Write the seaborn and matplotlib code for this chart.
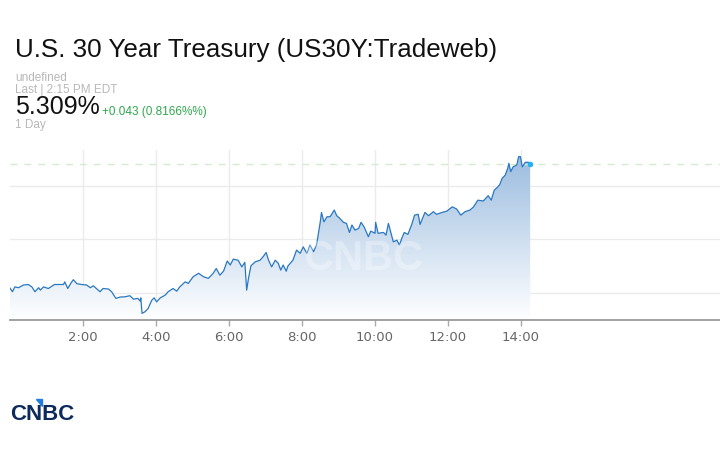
import numpy as np
import pandas as pd
import seaborn as sns
import matplotlib.pyplot as plt
from matplotlib.colors import LinearSegmentedColormap
from matplotlib.patches import Polygon

# время (минуты от полуночи) и доходность
minutes = [0, 4, 8, 14, 22, 30, 36, 41, 47, 50,
           55, 63, 73, 88, 90, 95, 99, 104, 110, 118,
           126, 132, 137, 143, 148, 153, 162, 167, 174, 181,
           189, 197, 203, 210, 214, 215, 217, 222, 227, 233,
           237, 241, 247, 255, 260, 268, 274, 279, 285, 288,
           293, 301, 310, 318, 326, 334, 339, 345, 351, 357,
           362, 367, 375, 381, 386, 389, 392, 396, 403, 411,
           416, 421, 425, 430, 436, 441, 445, 449, 454, 457,
           465, 471, 477, 482, 488, 493, 499, 504, 510, 512,
           516, 521, 526, 533, 537, 542, 548, 553, 558, 562,
           567, 573, 577, 582, 589, 593, 600, 601, 605, 614,
           618, 622, 626, 630, 636, 640, 644, 648, 654, 660,
           665, 671, 674, 682, 688, 696, 701, 710, 718, 727,
           734, 741, 748, 756, 762, 769, 778, 786, 791, 796,
           802, 805, 809, 814, 818, 820, 823, 827, 833, 836,
           839, 842, 847, 852, 855]
yields = [5.2618, 5.2604, 5.2622, 5.2619, 5.2629, 5.2631, 5.2622, 5.2604, 5.2619, 5.2610,
          5.2622, 5.2616, 5.2631, 5.2631, 5.2641, 5.2616, 5.2632, 5.2649, 5.2634, 5.2631,
          5.2629, 5.2619, 5.2626, 5.2614, 5.2604, 5.2616, 5.2614, 5.2604, 5.2579, 5.2584,
          5.2585, 5.2589, 5.2576, 5.2579, 5.2569, 5.2581, 5.2523, 5.2529, 5.2541, 5.2572,
          5.2581, 5.2566, 5.2581, 5.2591, 5.2604, 5.2616, 5.2606, 5.2622, 5.2635, 5.2641,
          5.2635, 5.2660, 5.2673, 5.2660, 5.2654, 5.2673, 5.2691, 5.2666, 5.2681, 5.2719,
          5.2704, 5.2726, 5.2722, 5.2697, 5.2714, 5.2610, 5.2654, 5.2701, 5.2716, 5.2722,
          5.2735, 5.2751, 5.2722, 5.2697, 5.2722, 5.2710, 5.2685, 5.2704, 5.2681, 5.2701,
          5.2722, 5.2760, 5.2748, 5.2772, 5.2748, 5.2779, 5.2754, 5.2781, 5.2866, 5.2901,
          5.2866, 5.2885, 5.2885, 5.2910, 5.2889, 5.2879, 5.2864, 5.2860, 5.2826, 5.2854,
          5.2835, 5.2841, 5.2864, 5.2847, 5.2810, 5.2831, 5.2823, 5.2864, 5.2823, 5.2826,
          5.2816, 5.2860, 5.2826, 5.2791, 5.2797, 5.2779, 5.2804, 5.2826, 5.2819, 5.2854,
          5.2891, 5.2894, 5.2856, 5.2901, 5.2889, 5.2904, 5.2894, 5.2901, 5.2906, 5.2922,
          5.2914, 5.2891, 5.2904, 5.2910, 5.2922, 5.2947, 5.2944, 5.2964, 5.2947, 5.2985,
          5.2997, 5.3006, 5.3029, 5.3041, 5.3066, 5.3085, 5.3054, 5.3072, 5.3079, 5.3110,
          5.3110, 5.3072, 5.3089, 5.3089, 5.3082]

tick_minutes = [120, 240, 360, 480, 600, 720, 840]
tick_labels = ["2:00", "4:00", "6:00", "8:00", "10:00", "12:00", "14:00"]
grid_levels = [5.26, 5.28, 5.30]

df = pd.DataFrame({"minute": minutes, "yield": yields})

sns.set_theme(style="white")
plt.rcParams["font.family"] = ["Liberation Sans", "DejaVu Sans"]

fig = plt.figure(figsize=(7.2, 4.5), dpi=100)
ax = fig.add_axes([10 / 720, 130 / 450, 710 / 720, 170 / 450])

y_lo, y_hi = 5.2498, 5.3135
x_hi = 1167

# градиентная заливка под линией
fill = ax.fill_between(df["minute"], df["yield"], y_lo, color="none", lw=0)
grad = np.linspace(0, 1, 256).reshape(-1, 1)
cmap = LinearSegmentedColormap.from_list("fill", ["#ffffff", "#9cbde0"])
im = ax.imshow(grad, extent=[0, minutes[-1], y_lo, 5.311], origin="lower",
               aspect="auto", cmap=cmap, zorder=1)
im.set_clip_path(fill.get_paths()[0], transform=ax.transData)

sns.lineplot(data=df, x="minute", y="yield", ax=ax, color="#2a78c2",
             linewidth=0.9, zorder=3)

ax.axhline(yields[-1], color="#d5ebd0", lw=1, ls=(0, (5, 5)), zorder=2)
ax.scatter([minutes[-1]], [yields[-1]], s=16, color="#22b3f2", zorder=5, lw=0)

ax.text(580, 5.2725, "CNBC", fontsize=30, fontweight="bold", color="white",
        alpha=0.3, ha="center", va="center", zorder=4)

ax.set_xlim(0, x_hi)
ax.set_ylim(y_lo, y_hi)
ax.set_xticks(tick_minutes)
ax.set_xticklabels(tick_labels, family="DejaVu Sans", fontsize=9.5, color="#666666")
ax.set_yticks(grid_levels)
ax.set_yticklabels([])
ax.tick_params(axis="x", length=4, width=1, color="#aaaaaa", pad=4, bottom=True)
ax.tick_params(axis="y", length=0)
ax.grid(True, color="#ebebeb", lw=1)
ax.set_axisbelow(True)
ax.set_xlabel("")
ax.set_ylabel("")
for s in ["top", "right", "left"]:
    ax.spines[s].set_visible(False)
ax.spines["bottom"].set_color("#9a9a9a")
ax.spines["bottom"].set_linewidth(1.3)


def fy(py):
    return 1 - py / 450


fig.text(15 / 720, fy(57), "U.S. 30 Year Treasury (US30Y:Tradeweb)",
         fontsize=18.7, color="#111111", va="baseline")
fig.text(15 / 720, fy(81), "undefined", fontsize=8.5, color="#b8b8b8", va="baseline")
fig.text(15 / 720, fy(93), "Last | 2:15 PM EDT", fontsize=8.5, color="#b8b8b8", va="baseline")
fig.text(15 / 720, fy(114), "5.309%", fontsize=18, color="#111111", va="baseline")
fig.text(102 / 720, fy(115), "+0.043 (0.8166%%)", fontsize=8.5, color="#2ea84c",
         va="baseline")
fig.text(15 / 720, fy(128), "1 Day", fontsize=8.5, color="#b8b8b8", va="baseline")

# логотип внизу
fig.text(10 / 720, fy(420), "CNBC", fontsize=16, fontweight="bold", color="#0d2a5c",
         va="baseline")
fig.patches.append(Polygon([(36 / 720, fy(399)), (42 / 720, fy(399)), (42 / 720, fy(406))],
                           closed=True, transform=fig.transFigure, color="#1f7de0"))

fig.savefig("out.png", dpi=100)
